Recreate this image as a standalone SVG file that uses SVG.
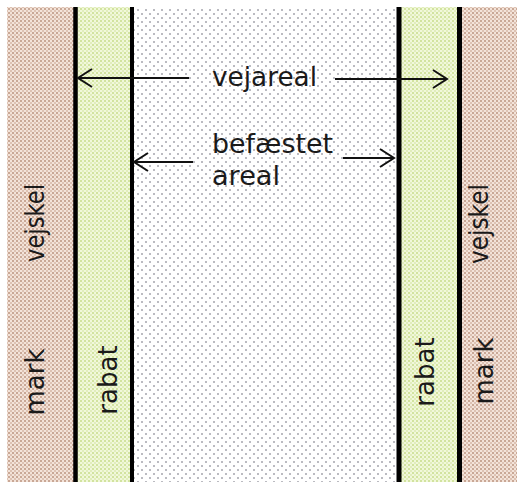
<svg xmlns="http://www.w3.org/2000/svg" width="517" height="482" viewBox="0 0 517 482">
<style>
.lbl{font-family:"DejaVu Sans","Liberation Sans",sans-serif;font-size:26px;fill:#1a1a1a}
.edge{stroke:#000;fill:none}
.arr{stroke:#111;stroke-width:2;fill:none}
</style>
<defs>
<pattern id="pMark" width="4" height="4" patternUnits="userSpaceOnUse">
<rect width="4" height="4" fill="#f3e3d9"/>
<rect x="0" y="0" width="2" height="2" fill="#c9a896"/>
<rect x="2" y="2" width="2" height="2" fill="#ddc2b3"/>
</pattern>
<pattern id="pRabat" width="4" height="4" patternUnits="userSpaceOnUse">
<rect width="4" height="4" fill="#f1f8da"/>
<rect x="0" y="0" width="2" height="2" fill="#d2e39f"/>
<rect x="2" y="2" width="2" height="2" fill="#e1edbc"/>
</pattern>
<pattern id="pRoad" width="8" height="8" patternUnits="userSpaceOnUse">
<rect width="8" height="8" fill="#ffffff"/>
<circle cx="2" cy="2" r="1" fill="#a4a4ac"/>
<circle cx="6" cy="6" r="1" fill="#a4a4ac"/>
</pattern>
<marker id="ah" viewBox="-16 -10 18 20" refX="0" refY="0" markerWidth="18" markerHeight="20" markerUnits="userSpaceOnUse" orient="auto-start-reverse">
<path d="M-14,-9 L0,0 L-14,9" stroke="#111" stroke-width="2" fill="none"/>
</marker>
</defs>
<rect width="517" height="482" fill="#ffffff"/>
<g id="mark-left"><rect x="7" y="7" width="68" height="475" fill="url(#pMark)"/></g>
<g id="rabat-left"><rect x="75" y="7" width="57" height="475" fill="url(#pRabat)"/></g>
<g id="road"><rect x="132" y="7" width="267" height="475" fill="url(#pRoad)"/></g>
<g id="rabat-right"><rect x="399" y="7" width="61" height="475" fill="url(#pRabat)"/></g>
<g id="mark-right"><rect x="460" y="7" width="57" height="475" fill="url(#pMark)"/></g>
<g id="edges">
<line class="edge" x1="75.5" y1="7" x2="75.5" y2="482" stroke-width="4.5"/>
<line class="edge" x1="132" y1="7" x2="132" y2="482" stroke-width="4"/>
<line class="edge" x1="399" y1="7" x2="399" y2="482" stroke-width="5"/>
<line class="edge" x1="459.5" y1="7" x2="459.5" y2="482" stroke-width="5"/>
</g>
<g id="connectors">
<line class="arr" x1="189" y1="78" x2="78" y2="78" marker-end="url(#ah)"/>
<line class="arr" x1="335" y1="79" x2="447" y2="79" marker-end="url(#ah)"/>
<line class="arr" x1="193" y1="162" x2="134" y2="162" marker-end="url(#ah)"/>
<line class="arr" x1="343" y1="158" x2="394" y2="158" marker-end="url(#ah)"/>
</g>
<g id="label-vejareal"><text class="lbl" x="212" y="86" textLength="105" lengthAdjust="spacingAndGlyphs">vejareal</text></g>
<g id="label-befaestet">
<text class="lbl" x="212" y="153" textLength="121" lengthAdjust="spacingAndGlyphs">befæstet</text>
<text class="lbl" x="212" y="185" textLength="68" lengthAdjust="spacingAndGlyphs">areal</text>
</g>
<g id="label-vejskel-left"><text class="lbl" transform="translate(44,223) rotate(-90)" text-anchor="middle" textLength="78" lengthAdjust="spacingAndGlyphs">vejskel</text></g>
<g id="label-mark-left"><text class="lbl" transform="translate(44,382) rotate(-90)" text-anchor="middle">mark</text></g>
<g id="label-rabat-left"><text class="lbl" transform="translate(117,380) rotate(-90)" text-anchor="middle">rabat</text></g>
<g id="label-rabat-right"><text class="lbl" transform="translate(434,372) rotate(-90)" text-anchor="middle">rabat</text></g>
<g id="label-mark-right"><text class="lbl" transform="translate(493,371) rotate(-90)" text-anchor="middle">mark</text></g>
<g id="label-vejskel-right"><text class="lbl" transform="translate(488,224) rotate(-90)" text-anchor="middle" textLength="80" lengthAdjust="spacingAndGlyphs">vejskel</text></g>
</svg>
